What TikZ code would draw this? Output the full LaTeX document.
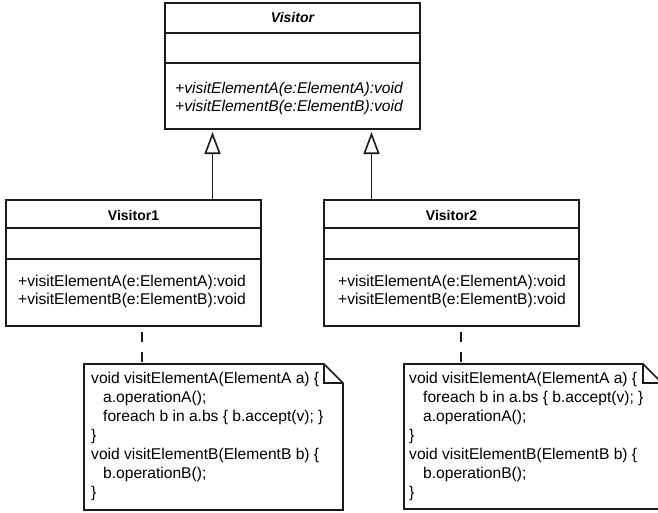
\documentclass[tikz,border=0pt]{standalone}
\usepackage{fontspec}
\setmainfont{Liberation Sans}
\usetikzlibrary{arrows.meta,calc}

\definecolor{linec}{HTML}{1A1A1A}

\begin{document}
\begin{tikzpicture}[x=1pt,y=-1pt]
\useasboundingbox (0,0) rectangle (658,512);
\tikzset{
  umlline/.style={draw=linec, line width=1.6pt, line join=miter},
  umlbox/.style={umlline, fill=white, inner sep=0pt, outer sep=0pt, anchor=north west},
  notebox/.style={inner sep=0pt, outer sep=0pt, anchor=north west},
  hdr/.style={font=\fontsize{14}{16}\selectfont\bfseries, anchor=base, inner sep=0pt},
  hdrabs/.style={font=\fontsize{14}{16}\selectfont\bfseries\itshape, anchor=base, inner sep=0pt},
  meth/.style={font=\fontsize{15.6}{18}\selectfont, anchor=base west, inner sep=0pt},
  methabs/.style={font=\fontsize{15.6}{18}\selectfont\itshape, anchor=base west, inner sep=0pt},
  code/.style={font=\fontsize{15.6}{19}\selectfont, anchor=base west, inner sep=0pt},
  gen/.style={umlline, -{Triangle[open, length=22pt, width=16pt, fill=white]}, shorten >=3pt},
  dep/.style={umlline, dash pattern=on 10pt off 10pt, dash phase=14pt},
}

% abstract class Visitor
\node[umlbox, minimum width=255pt, minimum height=126pt] (visitor) at (165,3) {};
\draw[umlline] ([yshift=-30pt]visitor.north west) -- ([yshift=-30pt]visitor.north east);
\draw[umlline] ([yshift=-60pt]visitor.north west) -- ([yshift=-60pt]visitor.north east);
\node[hdrabs] (visitorname) at ($(visitor.north)+(0,19)$) {Visitor};
\node[methabs] (visitorm1) at ($(visitor.north west)+(10,90)$) {+visitElementA(e:ElementA):void};
\node[methabs] (visitorm2) at ($(visitor.north west)+(10,108)$) {+visitElementB(e:ElementB):void};

% concrete class Visitor1
\node[umlbox, minimum width=255pt, minimum height=126pt] (visitor1) at (6,200) {};
\draw[umlline] ([yshift=-28pt]visitor1.north west) -- ([yshift=-28pt]visitor1.north east);
\draw[umlline] ([yshift=-59pt]visitor1.north west) -- ([yshift=-59pt]visitor1.north east);
\node[hdr] (visitor1name) at ($(visitor1.north)+(0,20)$) {Visitor1};
\node[meth] (visitor1m1) at ($(visitor1.north west)+(12,86)$) {+visitElementA(e:ElementA):void};
\node[meth] (visitor1m2) at ($(visitor1.north west)+(12,104)$) {+visitElementB(e:ElementB):void};

% concrete class Visitor2
\node[umlbox, minimum width=255pt, minimum height=126pt] (visitor2) at (324,200) {};
\draw[umlline] ([yshift=-28pt]visitor2.north west) -- ([yshift=-28pt]visitor2.north east);
\draw[umlline] ([yshift=-59pt]visitor2.north west) -- ([yshift=-59pt]visitor2.north east);
\node[hdr] (visitor2name) at ($(visitor2.north)+(0,20)$) {Visitor2};
\node[meth] (visitor2m1) at ($(visitor2.north west)+(14,86)$) {+visitElementA(e:ElementA):void};
\node[meth] (visitor2m2) at ($(visitor2.north west)+(14,104)$) {+visitElementB(e:ElementB):void};

% generalizations
\coordinate (g1) at ($(visitor.south)+(-80,0)$);
\coordinate (g2) at ($(visitor.south)+(79,0)$);
\draw[gen] (g1 |- visitor1.north) -- (g1);
\draw[gen] (g2 |- visitor2.north) -- (g2);

% note for Visitor1
\node[notebox, minimum width=259pt, minimum height=146pt] (note1) at (84,364) {};
\draw[umlline, fill=white] (note1.north west) -- ($(note1.north east)+(-19,0)$) -- ($(note1.north east)+(0,19)$)
  -- (note1.south east) -- (note1.south west) -- cycle;
\draw[umlline] ($(note1.north east)+(-19,0)$) -- ($(note1.north east)+(-19,19)$) -- ($(note1.north east)+(0,19)$);
\foreach \txt/\dx [count=\i] in {
    {void visitElementA(ElementA a) \{}/7,
    {a.operationA();}/19,
    {foreach b in a.bs \{ b.accept(v); \}}/19,
    {\}}/7,
    {void visitElementB(ElementB b) \{}/7,
    {b.operationB();}/19,
    {\}}/7}
  \node[code] (note1l\i) at ($(note1.north west)+(\dx,0.5+19*\i)$) {\txt};

% note for Visitor2
\node[notebox, minimum width=258pt, minimum height=145pt] (note2) at (404,364) {};
\draw[umlline, fill=white] (note2.north west) -- ($(note2.north east)+(-19,0)$) -- ($(note2.north east)+(0,19)$)
  -- (note2.south east) -- (note2.south west) -- cycle;
\draw[umlline] ($(note2.north east)+(-19,0)$) -- ($(note2.north east)+(-19,19)$) -- ($(note2.north east)+(0,19)$);
\foreach \txt/\dx [count=\i] in {
    {void visitElementA(ElementA a) \{}/5,
    {foreach b in a.bs \{ b.accept(v); \}}/19,
    {a.operationA();}/19,
    {\}}/5,
    {void visitElementB(ElementB b) \{}/5,
    {b.operationB();}/19,
    {\}}/5}
  \node[code] (note2l\i) at ($(note2.north west)+(\dx,0.5+19*\i)$) {\txt};

% notes attached to their classes
\coordinate (d1) at ($(note1.north west)+(58,0)$);
\coordinate (d2) at ($(note2.north west)+(57,0)$);
\draw[dep] (d1 |- visitor1.south) -- (d1);
\draw[dep] (d2 |- visitor2.south) -- (d2);
\end{tikzpicture}
\end{document}
